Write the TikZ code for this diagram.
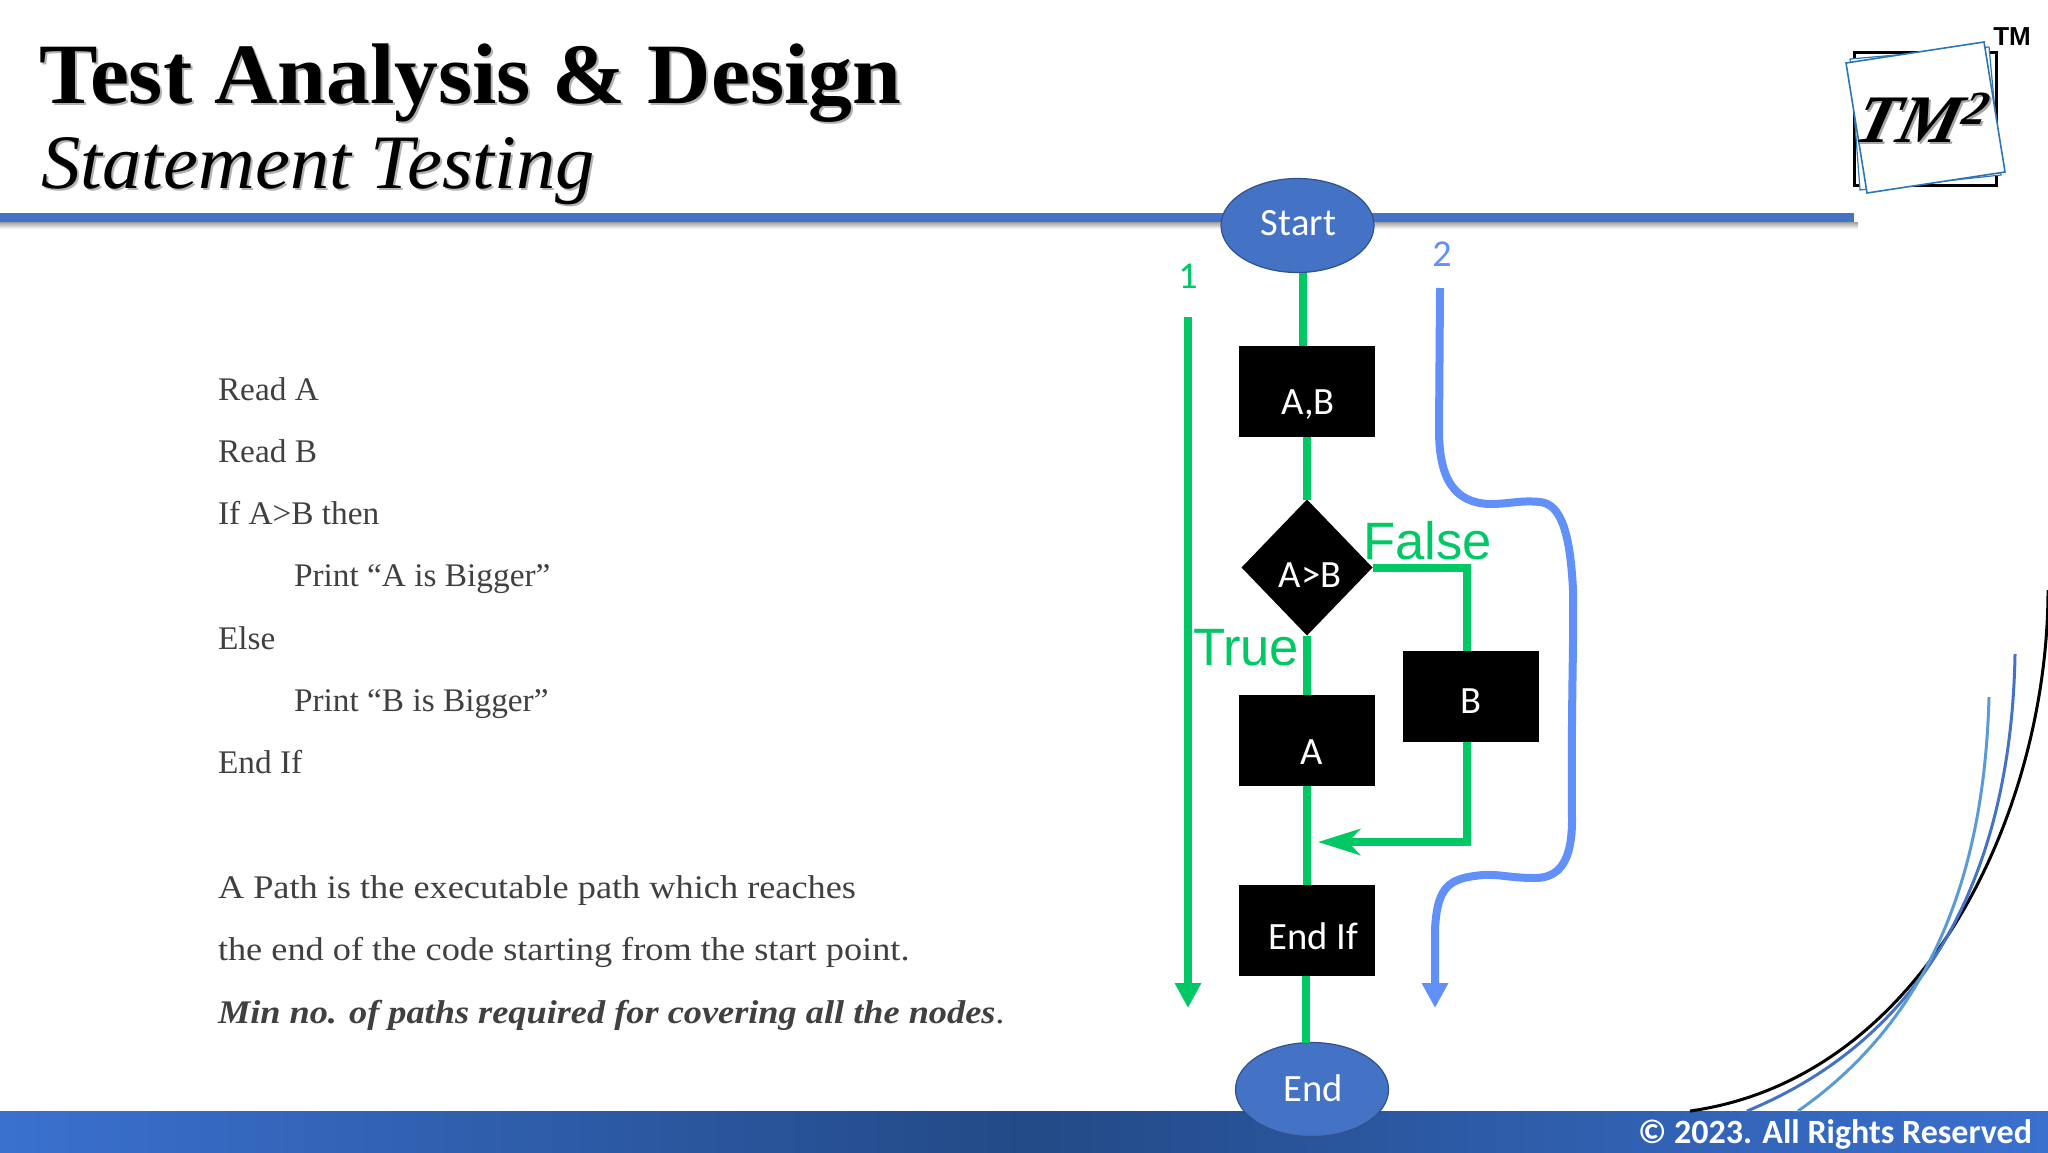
\documentclass[tikz,border=0pt]{standalone}
\usepackage{fontspec}
\setmainfont{Carlito}
\newfontfamily\titlefont[FakeStretch=1.02]{Liberation Serif}
\newfontfamily\codefont[FakeStretch=1.01]{Liberation Serif}
\newfontfamily\bodyfont[FakeStretch=1.1]{Liberation Serif}
\newfontfamily\arialfont{Liberation Sans}
\usepackage{tikz}
\usetikzlibrary{arrows.meta,positioning,shapes.geometric,calc}
\definecolor{slideblue}{HTML}{4472C4}
\definecolor{slideedge}{HTML}{2F528F}
\definecolor{footerleft}{HTML}{3A70CF}
\definecolor{footermid}{HTML}{234A87}
\definecolor{footerright}{HTML}{3A70CF}
\definecolor{pathgreen}{HTML}{00C864}
\definecolor{pathblue}{HTML}{6090F8}
\definecolor{bodygray}{HTML}{404040}
\definecolor{curvelight}{HTML}{5B9BD5}
\definecolor{logoedge}{HTML}{2E75B6}
\tikzset{
  every node/.style={outer sep=0pt},
  codeline/.style={anchor=north west, inner sep=0pt, text=bodygray, text height=12pt, text depth=4pt,
    font=\codefont\fontsize{16.5pt}{20pt}\selectfont},
  pathline/.style={codeline, font=\bodyfont\fontsize{16.5pt}{20pt}\selectfont},
  terminal/.style={draw=slideedge, fill=slideblue, ellipse, text=white, inner sep=0pt, line width=0.6pt,
    minimum width=76.5pt, minimum height=47pt, text height=#1, text depth=0pt,
    font=\fontsize{19.3pt}{22pt}\selectfont},
  procbox/.style={fill=black, text=white, inner sep=0pt, minimum width=68pt, minimum height=45.5pt,
    text height=#1, text depth=0pt, font=\fontsize{19.3pt}{22pt}\selectfont},
  decision/.style={fill=black, text=white, diamond, inner sep=0pt, minimum width=65.5pt, minimum height=68pt,
    text height=#1, text depth=0pt, font=\fontsize{19.3pt}{22pt}\selectfont},
  branch/.style={inner sep=0pt, anchor=base west, text=pathgreen, font=\arialfont\fontsize{26.3pt}{30pt}\selectfont},
  pathno/.style={inner sep=0pt, font=\fontsize{19pt}{22pt}\selectfont},
  flow/.style={draw=pathgreen, line width=4pt},
  flowhead/.style={flow, -{Stealth[length=21pt,width=13pt,inset=6pt]}},
  pathone/.style={draw=pathgreen, line width=4pt, -{Triangle[length=12.5pt,width=12.5pt]}},
  pathtwo/.style={draw=pathblue, line width=4pt, -{Triangle[length=12.5pt,width=12.5pt]}},
  titletext/.style={inner sep=0pt, anchor=base west, font=\titlefont\bfseries\fontsize{43pt}{50pt}\selectfont},
  subtitletext/.style={inner sep=0pt, anchor=base west, font=\titlefont\itshape\fontsize{38.5pt}{45pt}\selectfont},
  logotext/.style={inner sep=0pt, transform shape, xslant=0.25, font=\titlefont\bfseries\itshape\fontsize{34pt}{40pt}\selectfont}
}

\begin{document}
\begin{tikzpicture}[x=0.5pt, y=-0.5pt]
    \useasboundingbox (0,0) rectangle (2048,1152);
    \fill[white] (0,0) rectangle (2048,1152);

    % Header
    \shade[top color=gray!75, bottom color=white] (0,222) rectangle (1858,229);
    \fill[slideblue] (0,213) rectangle (1854,222);
    \node[titletext, text=gray!60] at (41.5,105) {Test Analysis \& Design};
    \node[titletext] (title) at (39.5,103) {Test Analysis \& Design};
    \node[subtitletext, text=gray!60] at (43.5,190) {Statement Testing};
    \node[subtitletext] (subtitle) at (41.5,188) {Statement Testing};

    % Logo
    \draw[black, line width=1.5pt, fill=white] (1854,52) rectangle (1996,185);
    \draw[logoedge, line width=0.6pt, fill=white] (1850,59) -- (1989,47) -- (2001,175) -- (1860,190) -- cycle;
    \draw[logoedge, line width=0.8pt, fill=white] (1846,63) -- (1984,42) -- (2005,172) -- (1867,193) -- cycle;
    \node[logotext, text=gray!70] at (1925,120) {TM\textsuperscript{2}};
    \node[logotext] (logo) at (1923,118) {TM\textsuperscript{2}};
    \node[inner sep=0pt, anchor=base, font=\arialfont\bfseries\fontsize{13pt}{15pt}\selectfont] (tm) at (2012,45) {TM};

    % Footer
    \shade[left color=footerleft, right color=footerright, middle color=footermid] (0,1111) rectangle (2048,1152);
    \node[inner sep=0pt, anchor=base east, text=white, font=\bfseries\fontsize{17pt}{19pt}\selectfont] (rights) at (2032,1143) {© 2023. All Rights Reserved};

    % Corner curves
    \draw[black, line width=1.5pt] (2048,590) .. controls (2048,810) and (1925,1078) .. (1690,1111);
    \draw[slideblue, line width=1.5pt] (2015,654) .. controls (2012,830) and (1955,1025) .. (1747,1111);
    \draw[curvelight, line width=1.5pt] (1989,697) .. controls (1985,840) and (1950,1005) .. (1798,1111);

    % Code
    \node[codeline] (reada) at (218,376) {Read A};
    \node[codeline, below right=15.15pt and 0pt of reada.south west] (readb) {Read B};
    \node[codeline, below right=15.15pt and 0pt of readb.south west] (ifline) {If A>B then};
    \node[codeline, below right=15.15pt and 38pt of ifline.south west] (printa) {Print “A is Bigger”};
    \node[codeline, below right=15.15pt and -38pt of printa.south west] (elseline) {Else};
    \node[codeline, below right=15.15pt and 38pt of elseline.south west] (printb) {Print “B is Bigger”};
    \node[codeline, below right=15.15pt and -38pt of printb.south west] (endline) {End If};
    \node[pathline, below right=46.4pt and 0pt of endline.south west] (pathdef) {A Path is the executable path which reaches};
    \node[pathline, below right=15.15pt and 0pt of pathdef.south west] (pathend) {the end of the code starting from the start point.};
    \node[pathline, below right=15.15pt and 0pt of pathend.south west] (minpaths) {\bfseries\itshape Min no. of paths required for covering all the nodes\mdseries\upshape.};

    % Flow chart
    \node[terminal=9.5pt] (startnode) at (1297.5,225.5) {\hspace*{1pt}Start};
    \node[procbox=23pt, below=36.5pt of startnode, xshift=4.75pt] (ab) {\hspace*{1pt}A,B};
    \node[decision=20pt, below=31.5pt of ab] (dec) {\hspace*{3pt}A>B};
    \node[procbox=24pt, below=29.5pt of dec] (aa) {\hspace*{5pt}A};
    \node[procbox=17pt, right=14pt of aa, yshift=21.75pt] (bb) {B};
    \node[procbox=19pt, below=49.5pt of aa] (endif) {\hspace*{6pt}End If};
    \node[terminal=11.5pt, below=33.5pt of endif, xshift=2.5pt] (endnode) {\hspace*{1pt}End};
    \coordinate (merge) at (1318,842);

    % Arrows
    \draw[flow] ([xshift=2.75pt]startnode.south) -- ([xshift=-2pt]ab.north);
    \draw[flow] (ab) -- (dec);
    \draw[flow] (dec) -- (aa);
    \draw[flow] (aa) -- (endif);
    \draw[flow] ([xshift=-0.5pt]endif.south) -- ([xshift=-3pt]endnode.north);
    \draw[flow] (dec.east) -| ([xshift=-2pt]bb.north);
    \draw[flowhead] ([xshift=-2pt]bb.south) |- (merge);

    % Branch labels
    \node[branch] (falselabel) at (1363,559) {False};
    \node[branch] (truelabel) at (1193,665) {True};

    % Paths
    \coordinate (pathonetop) at (1188,317);
    \coordinate (pathoneend) at (1188,1008);
    \coordinate (pathtwotop) at (1440,288);
    \coordinate (pathtwoend) at (1435,1008);
    \node[pathno, text=pathgreen, above=14.5pt of pathonetop] (one) {1};
    \node[pathno, text=pathblue, above=11pt of pathtwotop, xshift=1pt] (two) {2};
    \draw[pathone] (pathonetop) -- (pathoneend);
    \draw[pathtwo] (pathtwotop) -- (1439,430)
      .. controls (1439,480) and (1455,503) .. (1490,504)
      .. controls (1510,504) and (1520,500) .. (1540,502)
      .. controls (1560,504) and (1570,530) .. (1573,590)
      .. controls (1574,640) and (1571,700) .. (1572,820)
      .. controls (1572,860) and (1560,878) .. (1535,878)
      .. controls (1510,878) and (1500,874) .. (1483,875)
      .. controls (1450,878) and (1437,885) .. (1435,930)
      -- (pathtwoend);
  \end{tikzpicture}
\end{document}
